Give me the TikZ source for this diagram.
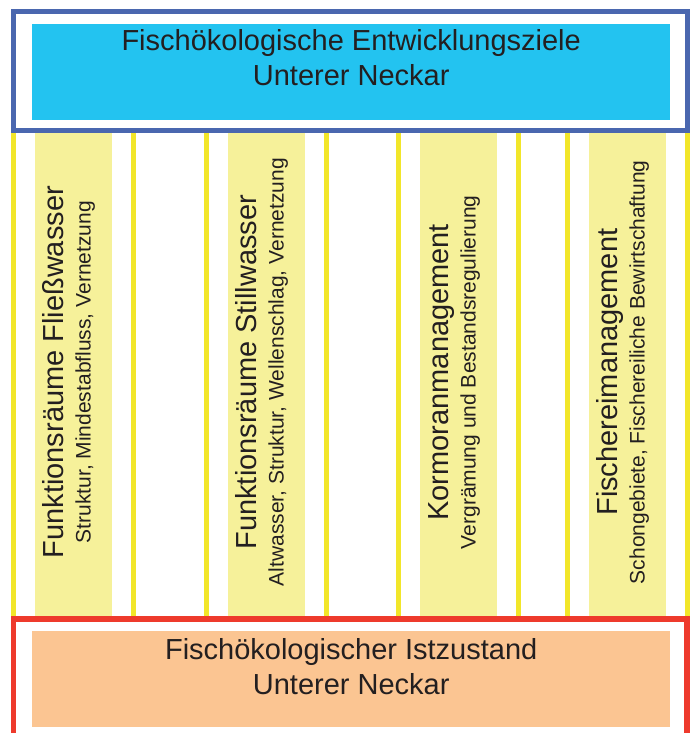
\documentclass[tikz,border=0pt]{standalone}
\usepackage{fontspec}
\setmainfont{Liberation Sans}
\usepackage{tikz}
\usetikzlibrary{positioning}
\definecolor{goalframe}{HTML}{4A67AF}
\definecolor{goalfill}{HTML}{23C3F0}
\definecolor{stateframe}{HTML}{EE3A2C}
\definecolor{statefill}{HTML}{FBC592}
\definecolor{pillarline}{HTML}{F2E62A}
\definecolor{pillarfill}{HTML}{F6F19A}
\definecolor{darktext}{HTML}{231F20}

\begin{document}
\begin{tikzpicture}[x=1pt, y=-1pt,
    box/.style={minimum width=638pt, minimum height=96pt, inner sep=0pt, anchor=north west},
    headtext/.style={align=center, inner sep=0pt, text=darktext, font=\fontsize{29}{35}\selectfont},
    pillar/.style={fill=pillarfill, minimum width=77pt, minimum height=488pt, inner sep=0pt, anchor=north west},
    bigtext/.style={rotate=90, anchor=base, inner sep=0pt, text=darktext, font=\fontsize{29}{35}\selectfont},
    smalltext/.style={rotate=90, anchor=base, inner sep=0pt, text=darktext, font=\fontsize{21}{25}\selectfont},
    yline/.style={draw=pillarline, line width=5pt}]
    \useasboundingbox (0,0) rectangle (693,733);
    \clip (0,0) rectangle (693,733);

    \foreach \i/\px/\title/\sub in {
        fliess/35/{Funktionsräume Fließwasser}/{Struktur, Mindestabfluss, Vernetzung},
        still/228/{Funktionsräume Stillwasser}/{Altwasser, Struktur, Wellenschlag, Vernetzung},
        kormoran/420/{Kormoranmanagement}/{Vergrämung und Bestandsregulierung},
        fischerei/589/{Fischereimanagement}/{Schongebiete, Fischereiliche Bewirtschaftung}} {
        \node[pillar] (\i) at (\px,131) {};
        \draw[yline] ([xshift=-21.5pt]\i.north west) -- ([xshift=-21.5pt]\i.south west);
        \draw[yline] ([xshift=21.5pt]\i.north east) -- ([xshift=21.5pt]\i.south east);
        \node[bigtext] (\i title) at ([xshift=28pt, yshift=3pt]\i.west) {\title};
        \node[smalltext] (\i sub) at ([xshift=55.5pt, yshift=3pt]\i.west) {\sub};
    }

    \draw[goalframe, line width=5pt] (13.5,11.5) rectangle (687,131);
    \node[box, fill=goalfill] (goal) at (32,24) {};
    \node[headtext, below=5pt of goal.north] (goaltext) {Fischökologische Entwicklungsziele\\Unterer Neckar};

    \draw[stateframe, line width=5.5pt] (13.5,619) rectangle (687,760);
    \node[box, fill=statefill] (state) at (32,631) {};
    \node[headtext, below=7pt of state.north] (statetext) {Fischökologischer Istzustand\\Unterer Neckar};
\end{tikzpicture}
\end{document}
